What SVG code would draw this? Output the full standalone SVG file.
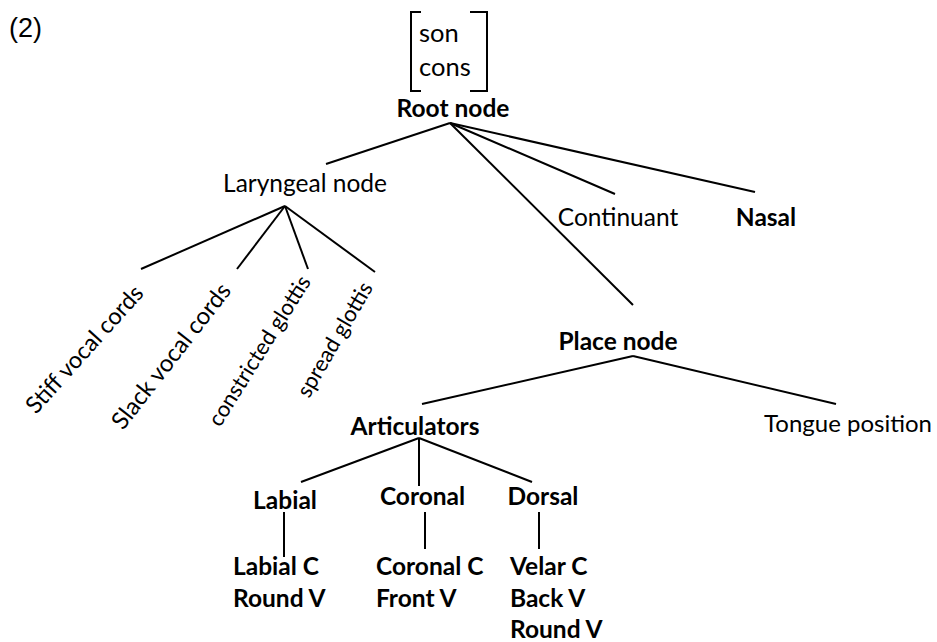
<svg xmlns="http://www.w3.org/2000/svg" width="937" height="642" viewBox="0 0 937 642">
<style>
  text { font-family: Lato, "Open Sans", "Liberation Sans", sans-serif; font-size: 24.5px; fill: #000; }
  .b { font-weight: bold; }
  .m { text-anchor: middle; }
  .big { font-size: 25.5px; }
  .rot { font-size: 24px; }
  .sm { font-size: 22px; }
  .num { font-family: "Liberation Sans", Arial, sans-serif; font-size: 27px; }
  .edge { stroke: #000; stroke-width: 2; fill: none; }
</style>
<rect width="937" height="642" fill="#fff"/>
<text class="num" x="9" y="37">(2)</text>

<g id="features">
  <path class="edge" d="M421,12 H411 V91 H421 M470,12 H487 V91 H470"/>
  <text class="big" x="419" y="42">son</text>
  <text class="big" x="419" y="76">cons</text>
</g>
<g id="root"><text class="b m" x="453" y="117">Root node</text></g>
<g id="laryngeal"><text class="m" x="305" y="192">Laryngeal node</text></g>
<g id="continuant"><text class="m" x="618" y="226">Continuant</text></g>
<g id="nasal"><text class="b m" x="766" y="226">Nasal</text></g>
<g id="stiff"><text class="rot" style="font-size:23.5px" transform="translate(36,415) rotate(-48)">Stiff vocal cords</text></g>
<g id="slack"><text class="rot" transform="translate(123,431) rotate(-52)">Slack vocal cords</text></g>
<g id="constricted"><text class="sm" transform="translate(220,428) rotate(-58)">constricted glottis</text></g>
<g id="spread"><text class="sm" transform="translate(309,399) rotate(-60)">spread glottis</text></g>
<g id="place"><text class="b m" x="618" y="350">Place node</text></g>
<g id="tongue"><text class="m" x="848" y="432" style="font-size:24px">Tongue position</text></g>
<g id="articulators"><text class="b m" x="415" y="435">Articulators</text></g>
<g id="labial"><text class="b m" x="285" y="509">Labial</text></g>
<g id="coronal"><text class="b m" x="422.5" y="505">Coronal</text></g>
<g id="dorsal"><text class="b m" x="543" y="505">Dorsal</text></g>
<g id="labial-vals"><text class="b" x="233" y="575">Labial C</text><text class="b" x="233" y="607">Round V</text></g>
<g id="coronal-vals"><text class="b" x="376" y="575">Coronal C</text><text class="b" x="376" y="607">Front V</text></g>
<g id="dorsal-vals"><text class="b" x="510" y="575">Velar C</text><text class="b" x="510" y="607">Back V</text><text class="b" x="510" y="638">Round V</text></g>

<g id="connectors" class="edge">
  <line x1="450" y1="123" x2="326" y2="164"/>
  <line x1="450" y1="123" x2="615" y2="194"/>
  <line x1="450" y1="123" x2="755" y2="192"/>
  <line x1="450" y1="123" x2="633" y2="305"/>
  <line x1="285" y1="206" x2="141" y2="269"/>
  <line x1="285" y1="206" x2="237" y2="269"/>
  <line x1="285" y1="206" x2="308" y2="269"/>
  <line x1="285" y1="206" x2="375" y2="272"/>
  <line x1="633" y1="356" x2="422" y2="404"/>
  <line x1="633" y1="356" x2="836" y2="404"/>
  <line x1="419" y1="438" x2="301" y2="482"/>
  <line x1="419" y1="438" x2="419" y2="486"/>
  <line x1="419" y1="438" x2="532" y2="482"/>
  <line x1="284" y1="512" x2="284" y2="557"/>
  <line x1="425" y1="512" x2="425" y2="549"/>
  <line x1="539" y1="512" x2="539" y2="549"/>
</g>
</svg>
